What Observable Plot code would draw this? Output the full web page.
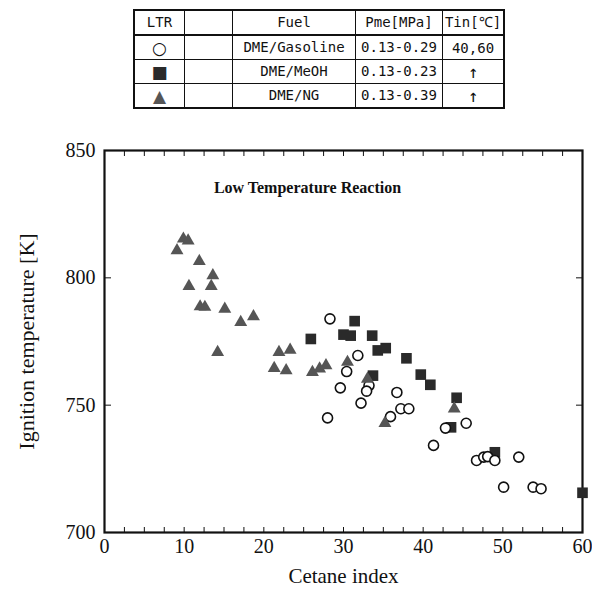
<!DOCTYPE html>
<html>
<head>
<meta charset="utf-8">
<script src="https://cdn.jsdelivr.net/npm/d3@7"></script>
<script src="https://cdn.jsdelivr.net/npm/@observablehq/plot@0.6"></script>
<style>
  body { margin: 0; background: #fff; width: 592px; height: 595px; overflow: hidden; position: relative; }
  #legend { position: absolute; left: 133px; top: 9px; border-collapse: collapse; table-layout: fixed; font-family: "DejaVu Sans Mono", "Liberation Mono", monospace; font-size: 14px; color: #111; border: 2px solid #111; }
  #legend td { border: 1.5px solid #111; text-align: center; padding: 0; height: 23px; line-height: 23px; white-space: nowrap; overflow: hidden; }
  #legend td span { display: inline-block; line-height: 1; vertical-align: middle; }
  #legend tr:first-child td { border-bottom: 2px solid #111; }
  #chart { position: absolute; left: 0; top: 115px; }
</style>
</head>
<body>
<table id="legend"></table>
<div id="chart"></div>
<script>
// ---- legend table values ----
const legendHeader = ["LTR", "", "Fuel", "Pme[MPa]", "Tin[℃]"];
const legendSymbols = ["○", "■", "▲"];
const legendSymbolColors = ["#111", "#2a2a2a", "#555"];
const legendFuel = ["DME/Gasoline", "DME/MeOH", "DME/NG"];
const legendPme = ["0.13-0.29", "0.13-0.23", "0.13-0.39"];
const legendTin = ["40,60", "↑", "↑"];
const columnWidths = [49, 47, 122, 86, 60];

// ---- series: DME/Gasoline (open circles) ----
const gasolineX = [28.3, 31.8, 30.4, 29.6, 33.2, 32.9, 32.2, 28.0, 36.7, 37.2, 38.2, 35.9, 41.3, 42.8, 45.4, 46.7, 47.6, 48.1, 49.0, 52.0, 50.1, 53.8, 54.8];
const gasolineY = [783.9, 769.5, 763.2, 756.8, 757.7, 755.5, 750.8, 745.0, 755.0, 748.6, 748.6, 745.5, 734.2, 741.0, 742.9, 728.3, 729.6, 729.8, 728.3, 729.6, 717.8, 717.8, 717.2];

// ---- series: DME/MeOH (filled squares) ----
const meohX = [25.9, 31.4, 30.0, 30.9, 33.6, 34.3, 35.3, 37.9, 39.7, 40.9, 33.7, 44.2, 43.5, 49.0, 60.0];
const meohY = [776.0, 783.0, 777.7, 777.3, 777.3, 771.5, 772.4, 768.4, 762.0, 758.0, 761.6, 752.9, 741.3, 731.5, 715.6];

// ---- series: DME/NG (grey triangles) ----
const ngX = [9.9, 10.5, 9.1, 11.9, 13.6, 10.6, 13.4, 12.0, 12.6, 15.1, 17.1, 18.7, 14.2, 21.9, 23.3, 21.3, 22.8, 26.1, 27.0, 27.8, 30.5, 33.0, 35.2, 43.9];
const ngY = [815.3, 814.6, 810.7, 806.5, 800.9, 796.7, 796.7, 788.7, 788.5, 787.8, 782.6, 784.8, 770.8, 770.8, 771.7, 764.5, 763.6, 762.9, 764.3, 765.6, 766.9, 760.3, 742.9, 748.6];

// ---- axes ----
const xTickLabels = [0, 10, 20, 30, 40, 50, 60];
const xMinorTicks = d3.range(0, 60.01, 2.5);
const yTickLabels = [700, 750, 800, 850];
const xTitle = "Cetane index";
const yTitle = "Ignition temperature [K]";
const annotation = "Low Temperature Reaction";

// build legend table
const table = d3.select("#legend");
const hr = table.append("tr");
legendHeader.forEach((h, i) => hr.append("td").style("width", columnWidths[i] + "px").text(h));
legendFuel.forEach((f, i) => {
  const tr = table.append("tr");
  tr.append("td").append("span")
    .style("font-family", "'DejaVu Sans', sans-serif")
    .style("font-size", "17px")
    .style("color", legendSymbolColors[i])
    .text(legendSymbols[i]);
  tr.append("td").text("");
  tr.append("td").text(f);
  tr.append("td").text(legendPme[i]);
  tr.append("td").append("span")
    .style("font-size", i === 0 ? "14px" : "17px")
    .text(legendTin[i]);
});

const zip = (xs, ys) => xs.map((x, i) => ({x, y: ys[i]}));
const gasoline = zip(gasolineX, gasolineY);
const meoh = zip(meohX, meohY);
const ng = zip(ngX, ngY);

const chart = Plot.plot({
  width: 592,
  height: 480,
  marginLeft: 104,
  marginRight: 10,
  marginTop: 35,
  marginBottom: 63,
  style: {fontFamily: "'Liberation Serif', 'Times New Roman', serif", fontSize: "20px", color: "#111", background: "white"},
  x: {domain: [0, 60]},
  y: {domain: [700, 850]},
  marks: [
    Plot.axisX({ticks: xMinorTicks, tickSize: -5, tickFormat: () => "", label: null}),
    Plot.axisX({anchor: "top", ticks: xMinorTicks, tickSize: -5, tickFormat: () => "", label: null}),
    Plot.axisY({ticks: yTickLabels, tickSize: -7, tickFormat: () => "", label: null}),
    Plot.axisY({anchor: "right", ticks: yTickLabels, tickSize: -7, tickFormat: () => "", label: null}),
    Plot.axisX({ticks: xTickLabels, tickSize: 0, tickPadding: 6, label: xTitle, labelAnchor: "center", labelArrow: "none", labelOffset: 50, fontSize: 20}),
    Plot.axisY({ticks: yTickLabels, tickSize: 0, tickPadding: 9, label: yTitle, labelAnchor: "center", labelArrow: "none", labelOffset: 86, fontSize: 20}),
    Plot.frame({stroke: "#111", strokeWidth: 2.2}),
    Plot.text([annotation], {frameAnchor: "top", dx: -36, dy: 31, fontWeight: "bold", fontSize: 16, fill: "#111"}),
    Plot.dot(meoh, {x: "x", y: "y", symbol: "square", r: 6, fill: "#2a2a2a", stroke: "none"}),
    Plot.dot(gasoline, {x: "x", y: "y", r: 5, fill: "white", stroke: "#111", strokeWidth: 1.6}),
    Plot.dot(ng, {x: "x", y: "y", symbol: "triangle", r: 4.8, fill: "#555", stroke: "none"})
  ]
});
// axis titles slightly larger than tick labels
d3.select(chart).selectAll("text").filter(function() { return this.textContent === xTitle; }).style("font-size", "21px");
d3.select(chart).selectAll("text").filter(function() { return this.textContent === yTitle; }).style("font-size", "22px");
document.getElementById("chart").appendChild(chart);
</script>
</body>
</html>
